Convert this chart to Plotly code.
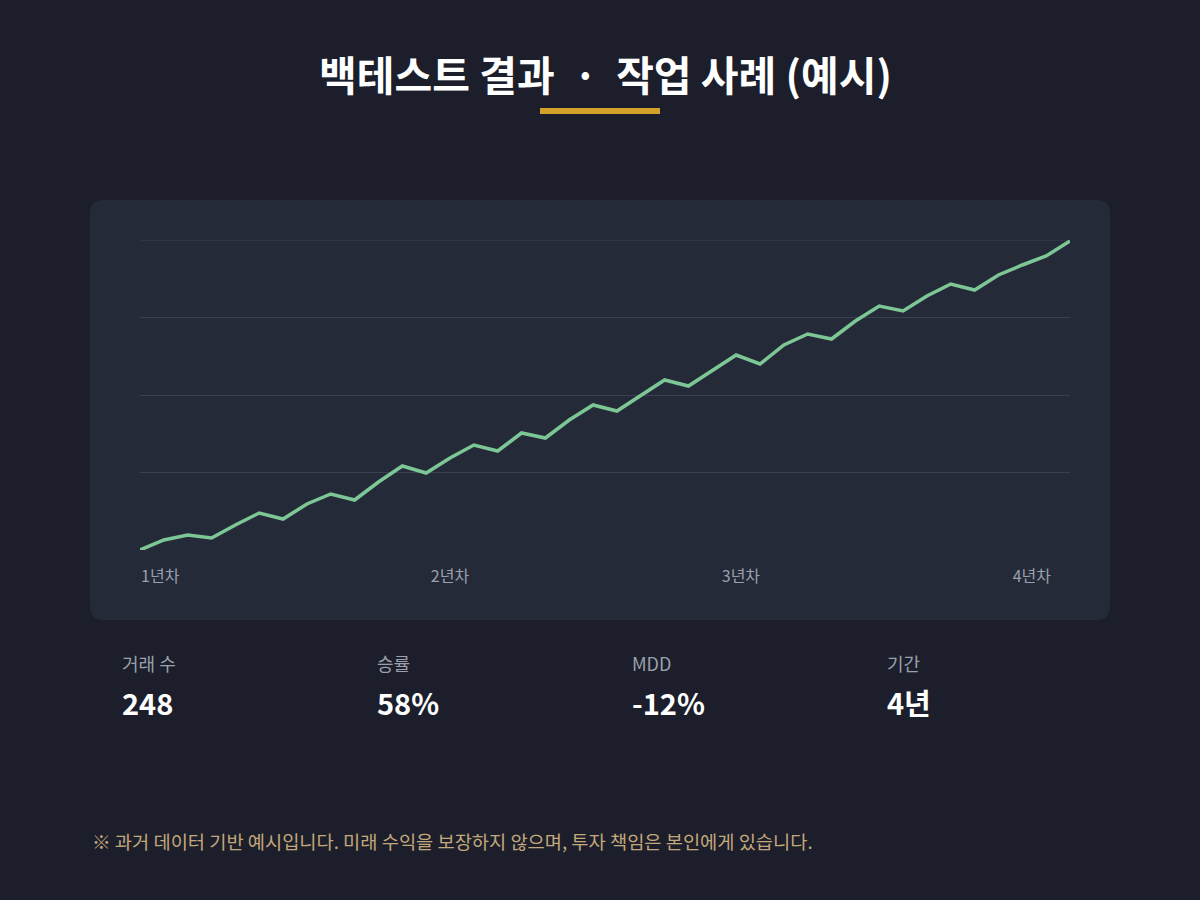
import plotly.graph_objects as go

# equity curve (relative units)
periods = list(range(40))
equity = [0, 10, 15, 12, 25, 37, 31, 46, 56, 50, 68, 84, 77, 92, 105, 99, 117, 112, 130, 145,
          139, 154, 170, 164, 180, 195, 186, 205, 216, 211, 229, 244, 239, 254, 266, 260, 275, 285, 294, 309]
year_pos = [0.85, 13, 25.2, 37.4]
year_labels = ["1년차", "2년차", "3년차", "4년차"]

stat_names = ["거래 수", "승률", "MDD", "기간"]
stat_values = ["248", "58%", "-12%", "4년"]

BG = "#1c1f2b"
CARD = "#252a39"
FONT = "Noto Sans CJK KR"

W, H = 1200, 900
L, R, T, B = 140, 130, 240, 350
pw, ph = W - L - R, H - T - B


def px_x(x):
    return (x - L) / pw


def px_y(y):
    return 1 - (y - T) / ph


fig = go.Figure()
fig.add_trace(go.Scatter(x=periods, y=equity, mode="lines",
                         line=dict(color="#7cc795", width=3.5), hoverinfo="skip"))

shapes = []
# card background (pixel-based rounded rect, drawn in paper coords)
cx0, cy0, cx1, cy1, r = 90, 200, 1110, 620, 14
rx, ry = r / pw, r / ph
a, b, c, d = px_x(cx0), px_y(cy1), px_x(cx1), px_y(cy0)
shapes.append(dict(type="path", xref="paper", yref="paper", layer="below",
                   fillcolor=CARD, line=dict(width=0),
                   path=(f"M{a+rx},{b} L{c-rx},{b} Q{c},{b} {c},{b+ry} L{c},{d-ry} Q{c},{d} {c-rx},{d} "
                         f"L{a+rx},{d} Q{a},{d} {a},{d-ry} L{a},{b+ry} Q{a},{b} {a+rx},{b} Z")))
# top grid line
shapes.append(dict(type="line", xref="paper", yref="y", x0=0, x1=1, y0=310, y1=310,
                   layer="below", line=dict(color="#3a4050", width=1)))
# gold underline
ux0, ux1, uy = 540, 660, 111
shapes.append(dict(type="line", xref="paper", yref="paper",
                   x0=px_x(ux0), x1=px_x(ux1), y0=px_y(uy), y1=px_y(uy),
                   line=dict(color="#d4a22b", width=6)))

ann = [dict(text="<b>백테스트 결과  ·  작업 사례 (예시)</b>", x=0.5, xref="paper",
            y=px_y(73), yref="paper", showarrow=False, xanchor="center", yanchor="middle",
            font=dict(size=41, color="white", family=FONT))]
for i, (n, v) in enumerate(zip(stat_names, stat_values)):
    xx = px_x(120 + 255 * i)
    ann.append(dict(text=n, x=xx, y=px_y(663), xref="paper", yref="paper", showarrow=False,
                    xanchor="left", yanchor="middle", font=dict(size=18, color="#9aa0ad", family=FONT)))
    ann.append(dict(text=f"<b>{v}</b>", x=xx, y=px_y(702), xref="paper", yref="paper", showarrow=False,
                    xanchor="left", yanchor="middle", font=dict(size=29, color="white", family=FONT)))
ann.append(dict(text="※ 과거 데이터 기반 예시입니다. 미래 수익을 보장하지 않으며, 투자 책임은 본인에게 있습니다.",
                x=px_x(90), y=px_y(840), xref="paper", yref="paper", showarrow=False,
                xanchor="left", yanchor="middle", font=dict(size=18.7, color="#c4a77a", family=FONT)))

fig.update_layout(
    width=W, height=H, margin=dict(l=L, r=R, t=T, b=B),
    paper_bgcolor=BG, plot_bgcolor=CARD, showlegend=False,
    shapes=shapes, annotations=ann,
    font=dict(family=FONT),
    xaxis=dict(range=[0, 39], showgrid=False, zeroline=False, showline=False,
               tickvals=year_pos, ticktext=year_labels, ticks="", ticklabelstandoff=15,
               tickfont=dict(size=16, color="#9aa0ad")),
    yaxis=dict(range=[0, 310], dtick=77.5, showticklabels=False, zeroline=False,
               gridcolor="#3a4050", gridwidth=1),
)

fig.write_html("out.html", config={"displayModeBar": False},
               post_script="document.body.style.margin='0';document.body.style.background='#1c1f2b';")
